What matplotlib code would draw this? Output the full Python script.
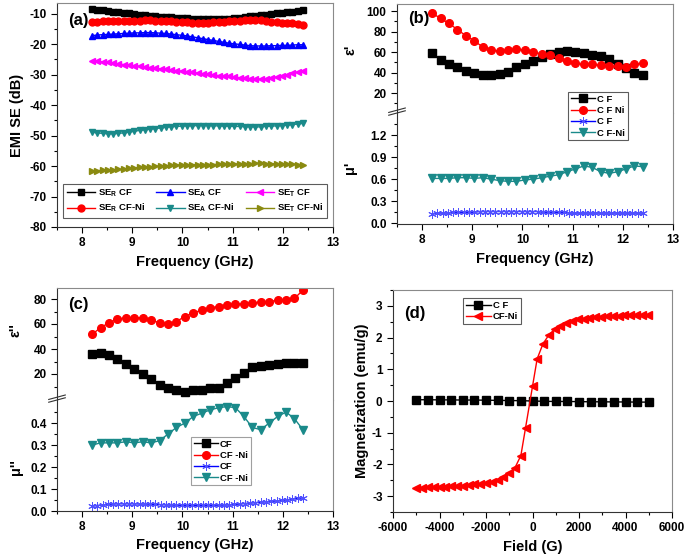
import numpy as np
import matplotlib
matplotlib.use("Agg")
import matplotlib.pyplot as plt
from matplotlib.ticker import MultipleLocator, FixedLocator, FormatStrFormatter

plt.rcParams['font.family'] = ['Liberation Sans', 'DejaVu Sans']
plt.rcParams['font.weight'] = 'bold'
plt.rcParams['axes.unicode_minus'] = False
plt.rcParams['mathtext.fontset'] = 'custom'
plt.rcParams['mathtext.rm'] = 'Liberation Sans:bold'
plt.rcParams['mathtext.bf'] = 'Liberation Sans:bold'
plt.rcParams['mathtext.it'] = 'Liberation Sans:bold'

# ---------------- data ----------------
f41 = np.linspace(8.2, 12.4, 41)
f26 = np.linspace(8.2, 12.4, 26)

seR_cf = [-8.5,-8.7,-8.9,-9.1,-9.3,-9.5,-9.7,-9.9,-10.1,-10.3,-10.5,-10.7,-10.9,-11.0,-11.1,-11.2,-11.3,-11.4,-11.5,-11.6,-11.7,-11.7,-11.8,-11.8,-11.8,-11.7,-11.6,-11.5,-11.3,-11.1,-10.9,-10.7,-10.5,-10.3,-10.1,-9.9,-9.7,-9.5,-9.3,-9.1,-8.9]
seR_cfni = [-12.7,-12.6,-12.5,-12.5,-12.4,-12.4,-12.3,-12.3,-12.3,-12.3,-12.2,-12.2,-12.3,-12.3,-12.4,-12.5,-12.6,-12.7,-12.8,-12.9,-13.0,-13.0,-12.9,-12.8,-12.7,-12.6,-12.5,-12.4,-12.3,-12.2,-12.1,-12.1,-12.2,-12.4,-12.6,-12.8,-13.0,-13.1,-13.2,-13.4,-13.6]
seA_cf = [-17.2,-17.0,-16.9,-16.8,-16.7,-16.6,-16.5,-16.4,-16.3,-16.3,-16.2,-16.2,-16.3,-16.4,-16.5,-16.7,-16.9,-17.1,-17.3,-17.6,-17.9,-18.2,-18.5,-18.8,-19.1,-19.4,-19.7,-19.9,-20.1,-20.3,-20.5,-20.6,-20.6,-20.6,-20.5,-20.5,-20.4,-20.4,-20.3,-20.2,-20.2]
seT_cf = [-25.4,-25.6,-25.8,-26.0,-26.2,-26.5,-26.7,-26.9,-27.1,-27.3,-27.5,-27.7,-27.9,-28.1,-28.3,-28.5,-28.7,-28.9,-29.1,-29.3,-29.5,-29.7,-29.9,-30.1,-30.3,-30.4,-30.6,-30.8,-31.0,-31.1,-31.3,-31.4,-31.5,-31.4,-31.1,-30.8,-30.4,-30.0,-29.6,-29.2,-28.8]
seA_cfni = [-48.9,-49.1,-49.3,-49.4,-49.4,-49.3,-49.1,-48.9,-48.6,-48.3,-48.1,-47.9,-47.7,-47.5,-47.3,-47.1,-47.0,-46.9,-46.8,-46.8,-46.7,-46.7,-46.7,-46.8,-46.8,-46.9,-46.9,-47.0,-47.0,-47.1,-47.1,-47.2,-47.1,-47.0,-46.9,-46.8,-46.7,-46.6,-46.4,-46.2,-46.0]
seT_cfni = [-61.5,-61.5,-61.4,-61.3,-61.2,-61.1,-61.0,-60.8,-60.6,-60.4,-60.3,-60.2,-60.1,-60.0,-59.9,-59.8,-59.7,-59.6,-59.6,-59.6,-59.5,-59.5,-59.5,-59.5,-59.4,-59.4,-59.4,-59.3,-59.3,-59.2,-59.2,-59.1,-59.1,-59.2,-59.2,-59.3,-59.3,-59.4,-59.4,-59.5,-59.5]

eps1_cf = [59,52,48,45,42,40,38,38,39,41,45,48,51,55,58,60,61,60,59,57,56,53,48,44,40,38]
eps1_cfni = [98,93,88,82,76,71,65,62,61,62,63,62,60,58,57,54,51,49,48,48,47,46,46,45,48,49]
mu1_cf = [0.13,0.14,0.14,0.14,0.15,0.15,0.15,0.15,0.15,0.16,0.16,0.16,0.16,0.16,0.16,0.16,0.16,0.16,0.16,0.16,0.16,0.15,0.15,0.15,0.15,0.15,0.14,0.14,0.14,0.14,0.14,0.14,0.14,0.14,0.14,0.14,0.14,0.14,0.14,0.14,0.14]
mu1_cfni = [0.61,0.61,0.61,0.62,0.62,0.61,0.62,0.60,0.58,0.57,0.57,0.59,0.60,0.62,0.64,0.66,0.70,0.74,0.78,0.76,0.70,0.68,0.70,0.74,0.78,0.77]

eps2_cf = [36,37,35,32,28,24,20,16,11,8.5,7,6,7,7.5,8.5,9,13,17,21,25.5,26.5,27,28,29,29,29]
eps2_cfni = [51.8,57,61,64,65,65,65,63,61,60,62,66,69,71,73,74,75.5,76,76,77,77.5,78,79,79.5,80.5,87]
mu2_cf = [0.022,0.025,0.028,0.030,0.032,0.033,0.033,0.033,0.033,0.032,0.032,0.031,0.030,0.029,0.028,0.027,0.027,0.026,0.026,0.026,0.026,0.026,0.026,0.026,0.027,0.027,0.028,0.030,0.032,0.034,0.036,0.038,0.040,0.042,0.044,0.046,0.048,0.051,0.054,0.057,0.060]
mu2_cfni = [0.30,0.31,0.31,0.31,0.315,0.31,0.315,0.31,0.32,0.35,0.38,0.40,0.43,0.445,0.46,0.47,0.475,0.47,0.43,0.38,0.37,0.40,0.43,0.45,0.42,0.37]

H_cf = [-5000,-4500,-4000,-3500,-3000,-2500,-2000,-1500,-1000,-500,0,500,1000,1500,2000,2500,3000,3500,4000,4500,5000]
M_cf = [0.04,0.04,0.035,0.035,0.03,0.03,0.025,0.02,0.015,0.01,0.0,-0.01,-0.015,-0.015,-0.02,-0.025,-0.025,-0.03,-0.03,-0.035,-0.035]
H_ni = [-5000,-4750,-4500,-4250,-4000,-3750,-3500,-3250,-3000,-2750,-2500,-2250,-2000,-1750,-1500,-1250,-1000,-750,-500,-300,0,200,450,700,950,1200,1450,1700,1950,2200,2450,2700,2950,3200,3450,3700,3950,4200,4450,4700,4950]
M_ni = [-2.73,-2.73,-2.72,-2.72,-2.71,-2.70,-2.69,-2.68,-2.67,-2.65,-2.63,-2.61,-2.58,-2.54,-2.49,-2.41,-2.28,-2.10,-1.72,-0.85,0.46,1.33,1.80,2.08,2.26,2.37,2.45,2.52,2.57,2.60,2.62,2.64,2.66,2.67,2.68,2.69,2.70,2.71,2.71,2.72,2.72]

# ---------------- figure ----------------
W, H = 685, 556
fig = plt.figure(figsize=(W/100, H/100), dpi=100)

def ax_px(x0, x1, y0, y1):
    return fig.add_axes([x0/W, 1 - y1/H, (x1-x0)/W, (y1-y0)/H])

TICKFS = 8.5
LABFS = 10.5

def style(ax, bottom=True, top=True):
    ax.tick_params(which='both', direction='out', top=False, right=False, labelsize=TICKFS, width=0.8)
    ax.tick_params(which='major', length=4)
    ax.tick_params(which='minor', length=2)
    for s in ['left', 'bottom']:
        ax.spines[s].set_color('#333333')
    for s in ['top', 'right']:
        ax.spines[s].set_color('#8a8a8a')
    if not bottom:
        ax.spines['bottom'].set_visible(False)
        ax.tick_params(axis='x', which='both', bottom=False, labelbottom=False)
    if not top:
        ax.spines['top'].set_visible(False)
    for lab in ax.get_xticklabels() + ax.get_yticklabels():
        lab.set_fontweight('bold')

def freq_x(ax):
    ax.set_xlim(7.5, 13)
    ax.xaxis.set_major_locator(MultipleLocator(1))
    ax.xaxis.set_minor_locator(MultipleLocator(0.5))

def break_marks(ax_low):
    kw = dict(transform=ax_low.transAxes, color='#333333', lw=0.8, clip_on=False)
    for dy in (0.0, 0.025):
        ax_low.plot([-0.03, 0.03], [1 - 0.02 + dy, 1 + 0.02 + dy], **kw)

# ---- (a) ----
axa = ax_px(57, 333, 3, 227)
ms = 5
la = []
la += axa.plot(f41, seR_cf, '-s', color='black', ms=ms, lw=1, label='SE$_{\\mathbf{R}}$ CF')
la += axa.plot(f41, seR_cfni, '-o', color='red', ms=ms, lw=1, label='SE$_{\\mathbf{R}}$ CF-Ni')
la += axa.plot(f41, seA_cf, '-^', color='blue', ms=ms, lw=1, label='SE$_{\\mathbf{A}}$ CF')
la += axa.plot(f41, seA_cfni, '-v', color='#1a8a8a', ms=ms, lw=1, label='SE$_{\\mathbf{A}}$ CF-Ni')
la += axa.plot(f41, seT_cf, '-<', color='magenta', ms=ms, lw=1, label='SE$_{\\mathbf{T}}$ CF')
la += axa.plot(f41, seT_cfni, '->', color='#8a8a10', ms=ms, lw=1, label='SE$_{\\mathbf{T}}$ CF-Ni')
freq_x(axa)
axa.set_ylim(-80, -6.5)
axa.yaxis.set_major_locator(MultipleLocator(10))
axa.yaxis.set_minor_locator(MultipleLocator(5))
style(axa)
axa.set_xlabel('Frequency (GHz)', fontsize=LABFS, fontweight='bold', labelpad=4)
axa.set_ylabel('EMI SE (dB)', fontsize=LABFS, fontweight='bold', labelpad=4)
axa.text(0.04, 0.955, '(a)', transform=axa.transAxes, fontsize=12, fontweight='bold', va='top')
lg = axa.legend(handles=la, ncol=3, loc='lower center', bbox_to_anchor=(0.5, 0.02), fontsize=6.8,
                frameon=True, fancybox=False, edgecolor='#333333', handlelength=3.0,
                columnspacing=1.2, handletextpad=0.3, borderpad=0.35, labelspacing=0.35)
lg.get_frame().set_linewidth(0.8)

# ---- (b) ----
axb1 = ax_px(397, 673, 4, 113)
axb2 = ax_px(397, 673, 113, 224)
lb = []
lb += axb1.plot(f26, eps1_cf, '-s', color='black', ms=5.5, lw=1, label='C F')
lb += axb1.plot(f26, eps1_cfni, '-o', color='red', ms=5.5, lw=1, label='C F Ni')
lb += axb2.plot(f41, mu1_cf, '-', color='blue', marker=(6, 2, 0), ms=6, mew=0.7, mec='#5050ff', lw=1, label='C F')
lb += axb2.plot(f26, mu1_cfni, '-v', color='#1a8a8a', ms=6, lw=1, label='C F-Ni')
for ax in (axb1, axb2):
    freq_x(ax)
axb1.set_ylim(0.5, 107)
axb1.yaxis.set_major_locator(FixedLocator([20, 40, 60, 80, 100]))
axb1.yaxis.set_minor_locator(FixedLocator([10, 30, 50, 70, 90]))
axb2.set_ylim(-0.01, 1.5)
axb2.yaxis.set_major_locator(FixedLocator([0.0, 0.3, 0.6, 0.9, 1.2]))
axb2.yaxis.set_minor_locator(FixedLocator([0.15, 0.45, 0.75, 1.05, 1.35]))
axb2.yaxis.set_major_formatter(FormatStrFormatter('%.1f'))
style(axb1, bottom=False)
style(axb2, top=False)
break_marks(axb2)
axb2.set_xlabel('Frequency (GHz)', fontsize=LABFS, fontweight='bold', labelpad=4)
fig.text(350/W, 1 - 50/H, "ε'", rotation=90, fontsize=LABFS, fontweight='bold', ha='center', va='center')
fig.text(350/W, 1 - 168/H, "μ'", rotation=90, fontsize=LABFS, fontweight='bold', ha='center', va='center')
axb1.text(0.04, 0.94, '(b)', transform=axb1.transAxes, fontsize=12, fontweight='bold', va='top')
lgb = fig.legend(handles=lb, loc='upper left', bbox_to_anchor=(563/W, 1 - 87/H), fontsize=6.8,
                 frameon=True, fancybox=False, edgecolor='#333333', handlelength=2.6,
                 handletextpad=0.2, borderpad=0.3, labelspacing=0.25)
lgb.get_frame().set_linewidth(0.8)

# ---- (c) ----
axc1 = ax_px(57, 333, 288, 400)
axc2 = ax_px(57, 333, 400, 511)
lc = []
lc += axc1.plot(f26, eps2_cf, '-s', color='black', ms=5.5, lw=1, label='CF')
lc += axc1.plot(f26, eps2_cfni, '-o', color='red', ms=5.5, lw=1, label='CF -Ni')
lc += axc2.plot(f41, mu2_cf, '-', color='blue', marker=(6, 2, 0), ms=6, mew=0.7, mec='#5050ff', lw=1, label='CF')
lc += axc2.plot(f26, mu2_cfni, '-v', color='#1a8a8a', ms=6, lw=1, label='CF -Ni')
for ax in (axc1, axc2):
    freq_x(ax)
axc1.set_ylim(-0.8, 88.8)
axc1.yaxis.set_major_locator(FixedLocator([20, 40, 60, 80]))
axc1.yaxis.set_minor_locator(FixedLocator([10, 30, 50, 70]))
axc2.set_ylim(0, 0.505)
axc2.yaxis.set_major_locator(FixedLocator([0.0, 0.1, 0.2, 0.3, 0.4]))
axc2.yaxis.set_minor_locator(FixedLocator([0.05, 0.15, 0.25, 0.35, 0.45]))
axc2.yaxis.set_major_formatter(FormatStrFormatter('%.1f'))
style(axc1, bottom=False)
style(axc2, top=False)
break_marks(axc2)
axc2.set_xlabel('Frequency (GHz)', fontsize=LABFS, fontweight='bold', labelpad=3)
fig.text(16/W, 1 - 330/H, "ε''", rotation=90, fontsize=LABFS, fontweight='bold', ha='center', va='center')
fig.text(16/W, 1 - 467/H, "μ''", rotation=90, fontsize=LABFS, fontweight='bold', ha='center', va='center')
axc1.text(0.04, 0.92, '(c)', transform=axc1.transAxes, fontsize=12, fontweight='bold', va='top')
lgc = fig.legend(handles=lc, loc='upper left', bbox_to_anchor=(186/W, 1 - 432/H), fontsize=6.8,
                 frameon=True, fancybox=False, edgecolor='#888888', handlelength=2.6,
                 handletextpad=0.2, borderpad=0.3, labelspacing=0.25)
lgc.get_frame().set_linewidth(0.8)

# ---- (d) ----
axd = ax_px(393, 672, 290, 512)
ld = []
ld += axd.plot(H_cf, M_cf, '-s', color='black', ms=5.5, lw=1, label='C F')
ld += axd.plot(H_ni, M_ni, '-<', color='red', ms=6, lw=1, label='CF-Ni')
axd.set_xlim(-6000, 6000)
axd.set_ylim(-3.5, 3.5)
axd.xaxis.set_major_locator(MultipleLocator(2000))
axd.xaxis.set_minor_locator(MultipleLocator(1000))
axd.yaxis.set_major_locator(MultipleLocator(1))
axd.yaxis.set_minor_locator(MultipleLocator(0.5))
style(axd)
axd.set_xlabel('Field (G)', fontsize=LABFS, fontweight='bold', labelpad=4)
axd.set_ylabel('Magnetization (emu/g)', fontsize=LABFS, fontweight='bold', labelpad=2)
axd.text(0.04, 0.93, '(d)', transform=axd.transAxes, fontsize=12, fontweight='bold', va='top')
lgd = axd.legend(handles=ld, loc='upper left', bbox_to_anchor=(0.235, 0.985), fontsize=6.8,
                 frameon=True, fancybox=False, edgecolor='#333333', handlelength=2.6,
                 handletextpad=0.2, borderpad=0.3, labelspacing=0.25)
lgd.get_frame().set_linewidth(0.8)

fig.savefig('out.png', dpi=100)
